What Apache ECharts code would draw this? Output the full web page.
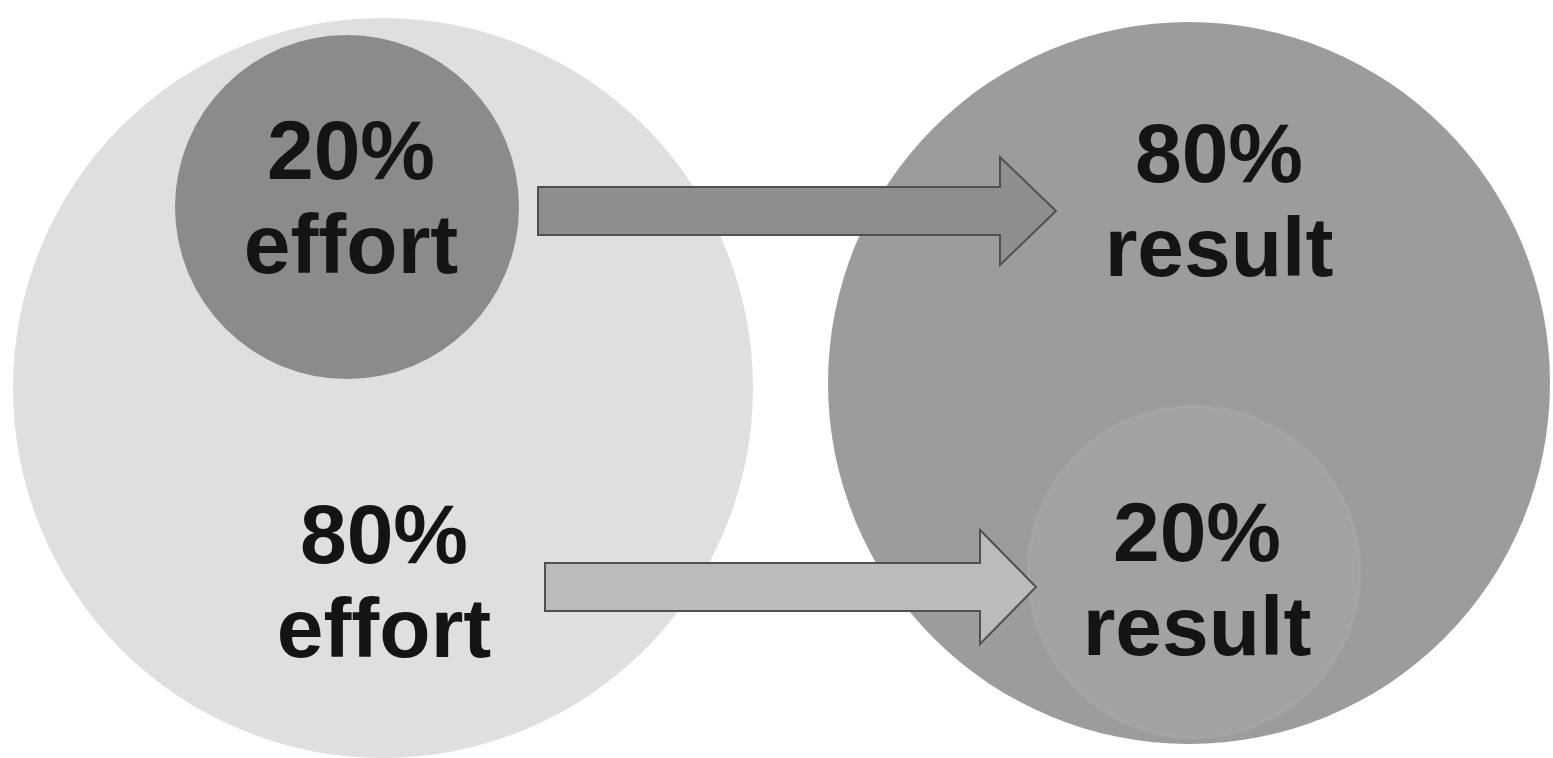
<!DOCTYPE html>
<html><head><meta charset="utf-8">
<script src="https://cdn.jsdelivr.net/npm/echarts@6/dist/echarts.min.js"></script>
<style>html,body{margin:0;padding:0;background:#fff}#c{width:1553px;height:758px}</style>
</head><body><div id="c"></div>
<script>
// circles: [cx, cy, r] in diagram units
const circleNames = ['effortAll', 'effort20', 'resultAll', 'result20'];
const circleCenters = [[383, 388], [347, 207], [1189, 383], [1194, 572]];
const circleRadii = [370, 172, 361, 166];
const circleColors = ['#dfdfdf', '#8b8b8b', '#9c9c9c', '#a2a2a2'];

// arrows: [xStart, xHeadBase, xTip, yCenter, shaftHalf, headHalf]
const arrowNames = ['effort20→result80', 'effort80→result20'];
const arrowGeom = [[538, 1000, 1056, 211, 24, 54], [545, 980, 1036, 587, 24, 57]];
const arrowColors = ['#8e8e8e', '#bbbbbb'];

// labels
const labelLines1 = ['20%', '80%', '80%', '20%'];
const labelLines2 = ['effort', 'effort', 'result', 'result'];
const labelPos = [[351, 203], [384, 587], [1219, 206], [1197, 585]];

const chart = echarts.init(document.getElementById('c'));
chart.setOption({
  animation: false,
  grid: {left: 0, right: 0, top: 0, bottom: 0},
  xAxis: {type: 'value', min: 0, max: 1553, show: false},
  yAxis: {type: 'value', min: 0, max: 758, inverse: true, show: false},
  series: [
    {
      type: 'custom', name: 'circles', clip: false,
      data: circleCenters.map((c, i) => [c[0], c[1], circleRadii[i], i]),
      renderItem: function (params, api) {
        const p = api.coord([api.value(0), api.value(1)]);
        const r = api.size([api.value(2), 0])[0];
        const i = api.value(3);
        return {
          type: 'circle',
          shape: {cx: p[0], cy: p[1], r: r},
          style: {fill: circleColors[i], stroke: i === 3 ? 'rgba(255,255,255,0.06)' : null, lineWidth: 3}
        };
      }
    },
    {
      type: 'custom', name: 'arrows', clip: false,
      data: arrowGeom.map((a, i) => a.concat([i])),
      renderItem: function (params, api) {
        const x0 = api.value(0), xb = api.value(1), xt = api.value(2), yc = api.value(3), sh = api.value(4), hh = api.value(5);
        const pts = [[x0, yc - sh], [xb, yc - sh], [xb, yc - hh], [xt, yc], [xb, yc + hh], [xb, yc + sh], [x0, yc + sh]].map(p => api.coord(p));
        return {
          type: 'polygon',
          shape: {points: pts},
          style: {fill: arrowColors[api.value(6)], stroke: '#505050', lineWidth: 2, lineJoin: 'miter'}
        };
      }
    },
    {
      type: 'custom', name: 'labels', clip: false,
      data: labelPos.map((p, i) => [p[0], p[1], i]),
      renderItem: function (params, api) {
        const p = api.coord([api.value(0), api.value(1)]);
        const i = api.value(2);
        return {
          type: 'text',
          x: p[0], y: p[1],
          style: {
            text: labelLines1[i] + '\n' + labelLines2[i],
            fontFamily: '"Liberation Sans", Arial, sans-serif',
            fontWeight: 'bold', fontSize: 84, lineHeight: 94,
            fill: '#141414', align: 'center', verticalAlign: 'middle'
          }
        };
      }
    }
  ]
});
</script></body></html>
